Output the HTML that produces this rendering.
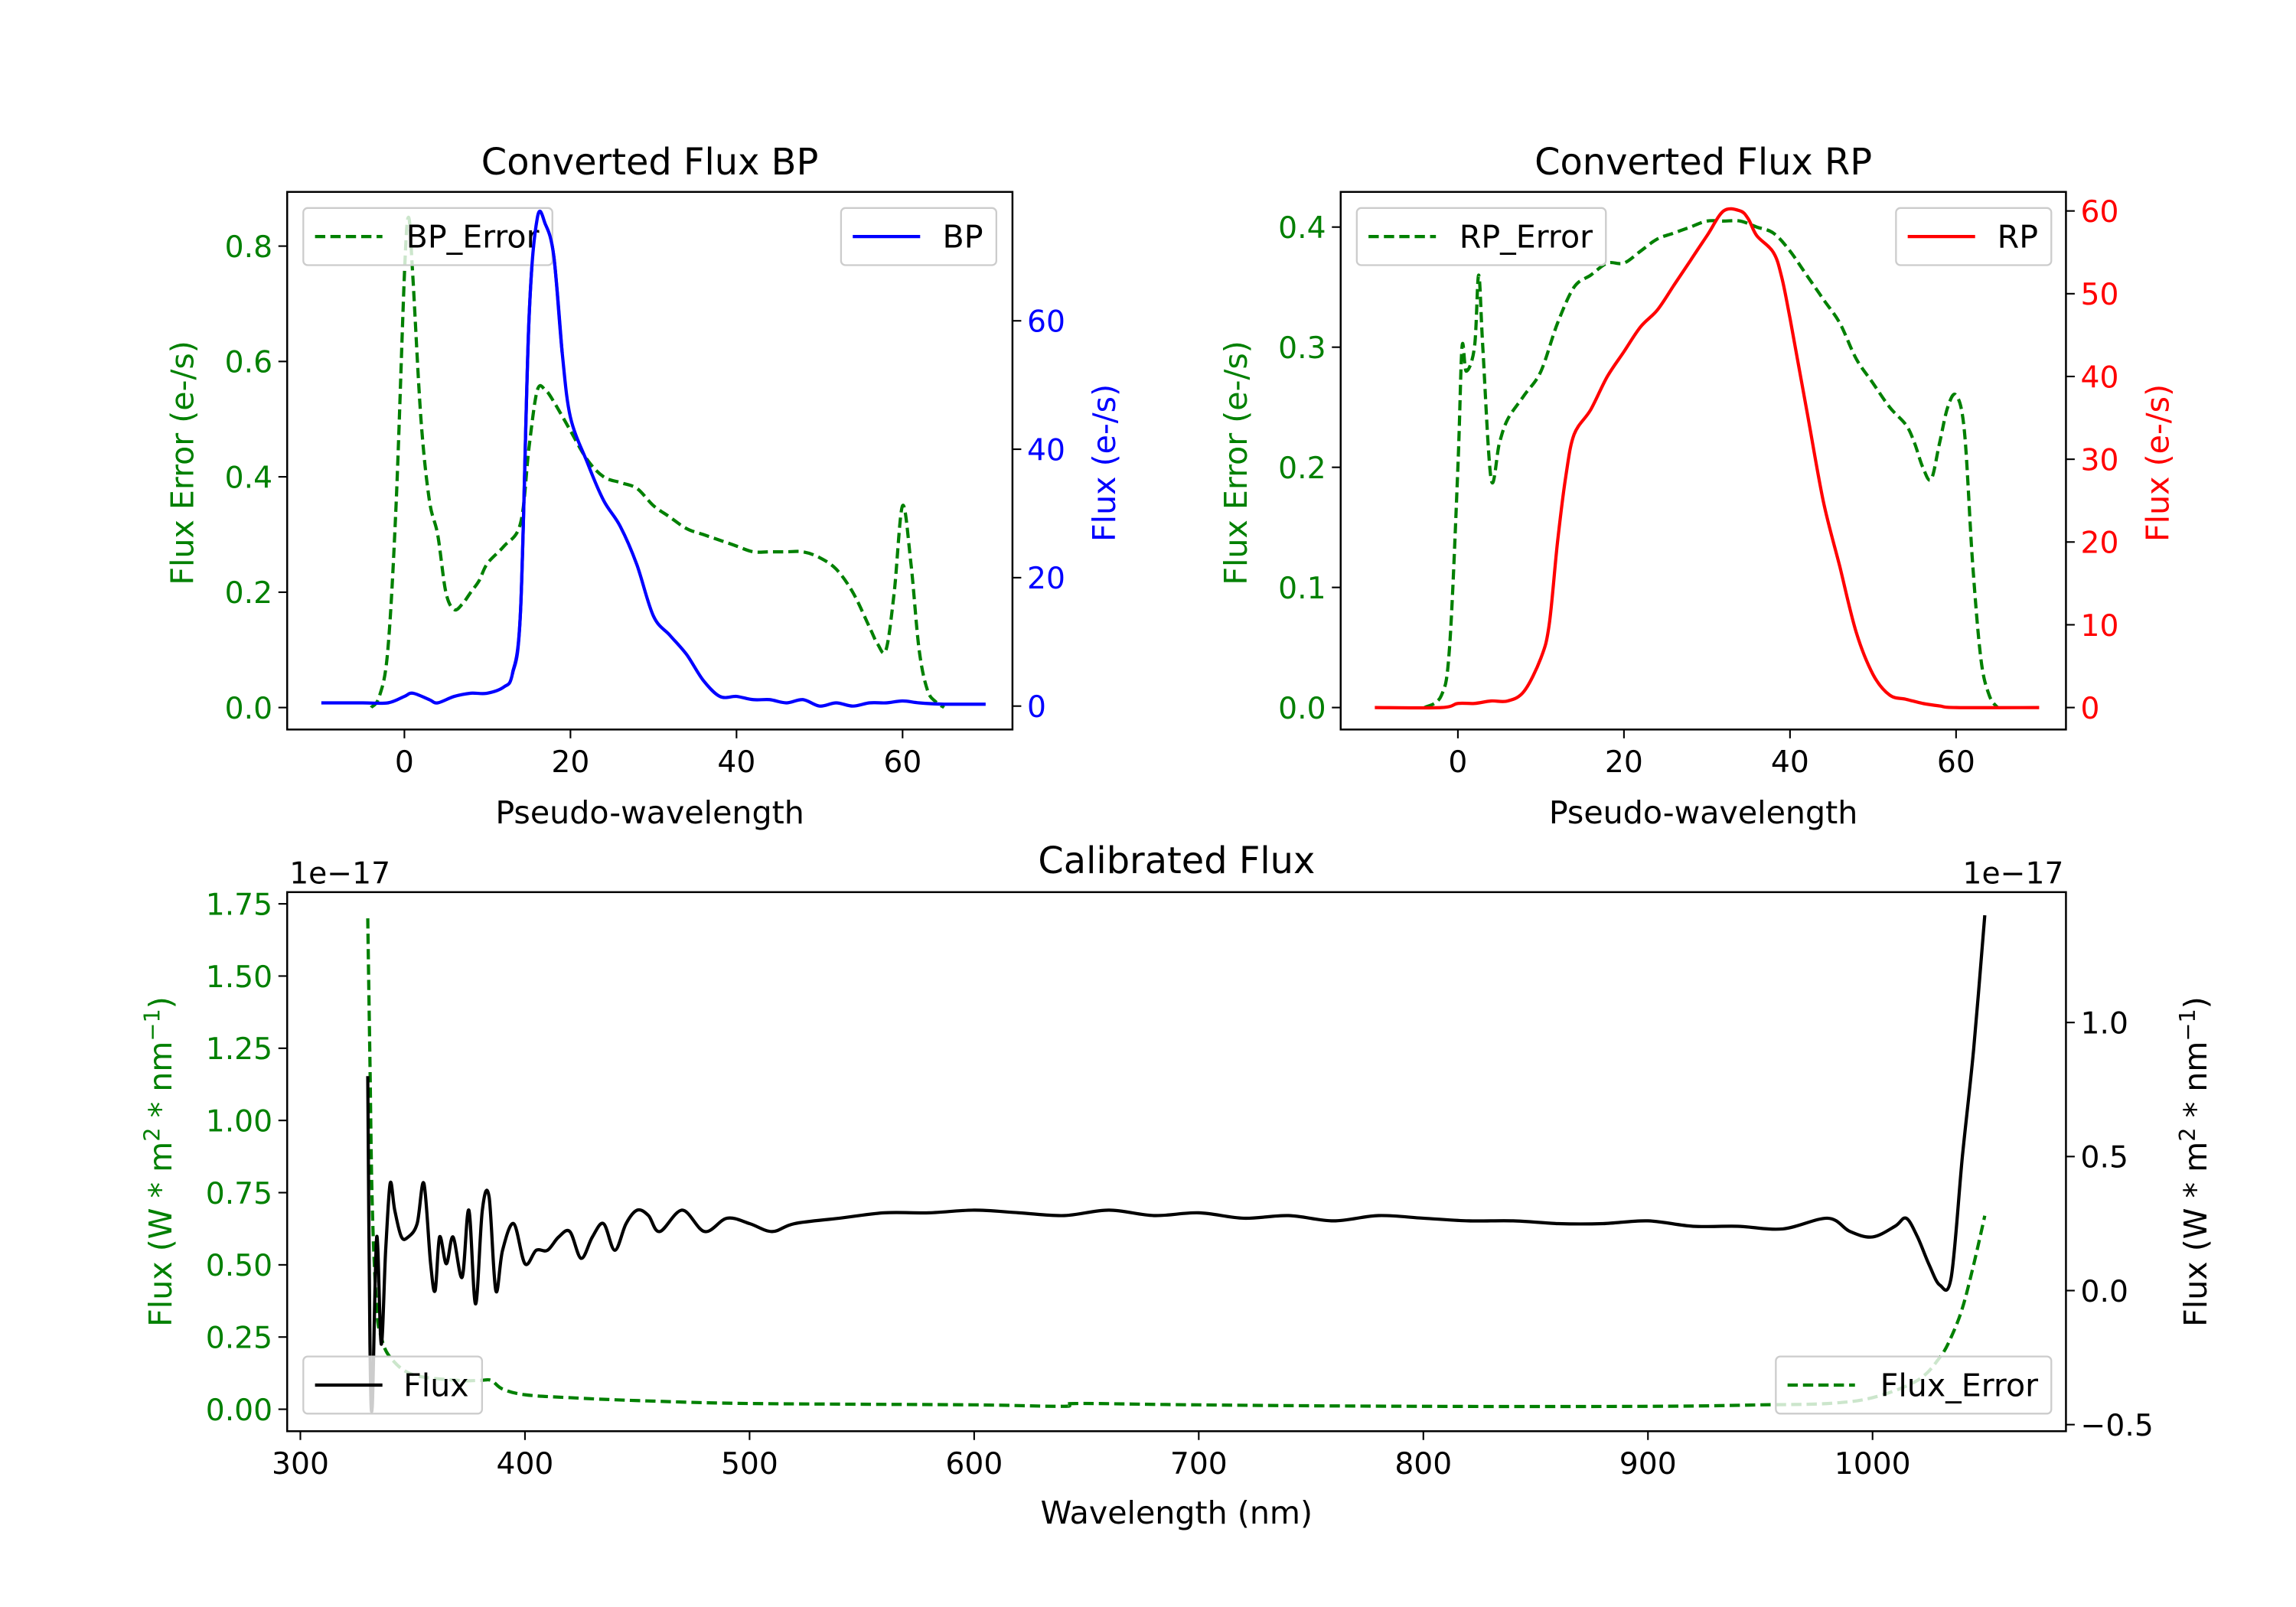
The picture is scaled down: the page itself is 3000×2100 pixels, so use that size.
<!DOCTYPE html>
<html><head><meta charset="utf-8"><style>
html,body{margin:0;padding:0;background:#fff}
svg{display:block}
text{font-family:"DejaVu Sans","Liberation Sans",sans-serif}
</style></head><body>
<svg id="fig" width="3000" height="2100" viewBox="0 0 1567 1097" preserveAspectRatio="none" xmlns="http://www.w3.org/2000/svg">
<rect width="1567" height="1097" fill="#fff"/>
<g id="layer"></g>
</svg>
<script>
// ---- data ----
const bpX = [-10,-5,-2,0,1,3,4,6,8,10,12,13,14,15,16,17,18,19,20,22,24,26,28,30,32,34,36,38,40,42,44,46,48,50,52,54,56,58,60,62,65,70];
const bpFlux = [0.5,0.5,0.5,1.5,2,1,0.5,1.5,2,2,3,5,15,60,76,75,70,55,45,38,32,28,22,14,11,8,4,1.5,1.5,1,1,0.5,1,0,0.5,0,0.5,0.5,0.8,0.5,0.3,0.3];
const bpErrX = [-4,-3,-2,-1,0,0.5,1,2,3,4,5,6,7,8,9,10,12,14,15,16,17,18,20,22,24,26,28,30,32,34,36,38,40,42,44,46,48,50,52,54,56,57,58,59,60,61,62,63,64,65];
const bpErr = [0,0.02,0.1,0.35,0.75,0.85,0.75,0.5,0.36,0.3,0.2,0.17,0.18,0.2,0.22,0.25,0.28,0.32,0.45,0.55,0.55,0.53,0.48,0.43,0.4,0.39,0.38,0.35,0.33,0.31,0.3,0.29,0.28,0.27,0.27,0.27,0.27,0.26,0.24,0.2,0.14,0.11,0.1,0.2,0.35,0.25,0.1,0.03,0.01,0];
const rpX = [-10,-2,0,2,4,6,8,10,11,12,13,14,16,18,20,22,24,26,28,30,32,34,35,36,38,39,40,42,44,46,48,50,52,54,56,58,60,70];
const rpFlux = [0,0,0.5,0.5,0.8,0.8,2,6,10,20,28,33,36,40,43,46,48,51,54,57,60,60,59,57,55,52,47,36,25,17,9,4,1.5,1,0.5,0.2,0,0];
const rpErrX = [-4,-2,-1,0,0.5,1,2,2.5,3,4,5,6,8,10,12,14,16,18,20,22,24,26,28,30,32,34,36,38,40,42,44,46,48,50,52,54,55,56,57,58,59,60,61,62,63,64,65];
const rpErr = [0,0.01,0.05,0.2,0.3,0.28,0.3,0.36,0.3,0.19,0.22,0.24,0.26,0.28,0.32,0.35,0.36,0.37,0.37,0.38,0.39,0.395,0.4,0.405,0.405,0.405,0.4,0.395,0.38,0.36,0.34,0.32,0.29,0.27,0.25,0.235,0.22,0.2,0.19,0.22,0.25,0.26,0.23,0.12,0.04,0.01,0];
const calX = [330,331,332,334,336,338,340,342,345,348,352,355,358,360,362,365,368,372,375,378,381,384,387,390,395,400,405,410,415,420,425,430,435,440,445,450,455,460,470,480,490,500,510,520,540,560,580,600,620,640,660,680,700,720,740,760,780,800,820,840,860,880,900,920,940,960,980,990,1000,1010,1015,1020,1025,1030,1035,1040,1045,1050];
const calFlux = [0.8,-0.2,-0.43,0.2,-0.2,0.15,0.4,0.3,0.2,0.2,0.25,0.4,0.1,0,0.2,0.1,0.2,0.05,0.3,-0.05,0.3,0.35,0,0.15,0.25,0.1,0.15,0.15,0.2,0.22,0.12,0.2,0.25,0.15,0.25,0.3,0.28,0.22,0.3,0.22,0.27,0.25,0.22,0.25,0.27,0.29,0.29,0.3,0.29,0.28,0.3,0.28,0.29,0.27,0.28,0.26,0.28,0.27,0.26,0.26,0.25,0.25,0.26,0.24,0.24,0.23,0.27,0.22,0.2,0.24,0.27,0.2,0.1,0.02,0.05,0.5,0.9,1.4];
const calErrX = [330,331,332,334,336,340,350,370,380,385,390,400,420,450,500,600,640,645,700,800,900,950,980,1000,1020,1030,1035,1040,1045,1050];
const calErr = [1.7,1.2,0.7,0.35,0.25,0.18,0.12,0.1,0.1,0.1,0.07,0.05,0.04,0.03,0.02,0.015,0.01,0.02,0.015,0.01,0.01,0.015,0.02,0.04,0.1,0.18,0.25,0.35,0.5,0.67];
const bpXTicks=[0,20,40,60], bpLTicks=[0,0.2,0.4,0.6,0.8], bpRTicks=[0,20,40,60];
const rpXTicks=[0,20,40,60], rpLTicks=[0,0.1,0.2,0.3,0.4], rpRTicks=[0,10,20,30,40,50,60];
const calXTicks=[300,400,500,600,700,800,900,1000], calLTicks=[0,0.25,0.5,0.75,1,1.25,1.5,1.75], calRTicks=[-0.5,0,0.5,1];

const NS="http://www.w3.org/2000/svg", L=document.getElementById('layer');
const TFS=20.5, LFS=21.5, HFS=25;
function el(tag,attrs,parent){const e=document.createElementNS(NS,tag);for(const k in attrs)e.setAttribute(k,attrs[k]);(parent||L).appendChild(e);return e;}
function lin(d0,d1,p0,p1){return v=>p0+(v-d0)*(p1-p0)/(d1-d0);}
function fmt(v,dec){return v<0?'\u2212'+Math.abs(v).toFixed(dec):v.toFixed(dec);}
function txt(s,x,y,o){const t=el('text',Object.assign({x:x,y:y,'font-size':o.fs||TFS,fill:o.fill||'#000','text-anchor':o.anchor||'middle'},o.extra||{}));t.textContent=s;return t;}

function line(xs,ys,fx,fy,color,dash,name){
  const P=xs.map((x,i)=>[fx(x),fy(ys[i])]);
  let d='M'+P[0][0].toFixed(1)+','+P[0][1].toFixed(1);
  for(let i=0;i<P.length-1;i++){
    const p0=P[Math.max(0,i-1)],p1=P[i],p2=P[i+1],p3=P[Math.min(P.length-1,i+2)];
    const c1=[p1[0]+(p2[0]-p0[0])/6,p1[1]+(p2[1]-p0[1])/6], c2=[p2[0]-(p3[0]-p1[0])/6,p2[1]-(p3[1]-p1[1])/6];
    d+=' C'+c1[0].toFixed(1)+','+c1[1].toFixed(1)+' '+c2[0].toFixed(1)+','+c2[1].toFixed(1)+' '+p2[0].toFixed(1)+','+p2[1].toFixed(1);
  }
  const p=el('path',{d:d,fill:'none',stroke:color,'stroke-width':2.2,'stroke-linejoin':'round'});
  if(dash)p.setAttribute('stroke-dasharray','7,3.5');
  
  
}
function frame(x0,y0,x1,y1,name){
  const r=el('rect',{x:x0,y:y0,width:x1-x0,height:y1-y0,fill:'none',stroke:'#000','stroke-width':1.3});
  
  
}
function xTicks(ticks,fx,y,dec){ticks.forEach(v=>{el('line',{x1:fx(v),x2:fx(v),y1:y,y2:y+6,stroke:'#000','stroke-width':1.1});const t=txt(fmt(v,dec),fx(v),y+29,{});});}
function yTicks(ticks,fy,x,side,dec,color){ticks.forEach(v=>{const d=side<0?-6:6;el('line',{x1:x,x2:x+d,y1:fy(v),y2:fy(v),stroke:'#000','stroke-width':1.1});const t=txt(fmt(v,dec),x+(side<0?-10:10),fy(v)+7.5,{fill:color,anchor:side<0?'end':'start'});});}
function legend(x,y,w,label,color,dash,name){
  const g=el('g',{});
  el('rect',{x:x,y:y,width:w,height:39,rx:3,fill:'#fff','fill-opacity':0.8,stroke:'#ccc','stroke-width':1.2},g);
  const l=el('line',{x1:x+8,x2:x+54,y1:y+19.5,y2:y+19.5,stroke:color,'stroke-width':2.2},g);
  if(dash)l.setAttribute('stroke-dasharray','7,3.5');
  const t=el('text',{x:x+w-9,y:y+27,'font-size':LFS,'text-anchor':'end',fill:'#000'},g);t.textContent=label;
}
function rotText(s,x,y,color,name){const t=txt(s,x,y,{fill:color,fs:LFS,extra:{transform:'rotate(-90 '+x+' '+y+')'}});return t;}

// ---- BP panel ----
{const fx=lin(0,60,276,616), fy=lin(0,0.8,483,168), fr=lin(0,60,482,219);
 line(bpErrX,bpErr,fx,fy,'green',true,'bp-error-line');
 line(bpX,bpFlux,fx,fr,'blue',false,'bp-flux-line');
 frame(196,131,691,498,'bp-axes');
 xTicks(bpXTicks,fx,498,0); yTicks(bpLTicks,fy,196,-1,1,'green'); yTicks(bpRTicks,fr,691,1,0,'blue');
 let t=txt('Converted Flux BP',443.5,119,{fs:HFS});
 t=txt('Pseudo-wavelength',443.5,562,{fs:LFS});
 rotText('Flux Error (e-/s)',132,316,'green','bp-left-y-title');
 rotText('Flux (e-/s)',761,316,'blue','bp-right-y-title');
 legend(207,142,170,'BP_Error','green',true,'bp-error-legend');
 legend(574,142,106,'BP','blue',false,'bp-legend');
 line(bpX.slice(11,18),bpFlux.slice(11,18),fx,fr,'blue',false,'bp-flux-peak');
}
// ---- RP panel ----
{const fx=lin(0,60,995,1335), fy=lin(0,0.4,483,155), fr=lin(0,60,483,144);
 line(rpErrX,rpErr,fx,fy,'green',true,'rp-error-line');
 line(rpX,rpFlux,fx,fr,'red',false,'rp-flux-line');
 frame(915,131,1410,498,'rp-axes');
 xTicks(rpXTicks,fx,498,0); yTicks(rpLTicks,fy,915,-1,1,'green'); yTicks(rpRTicks,fr,1410,1,0,'red');
 let t=txt('Converted Flux RP',1162.5,119,{fs:HFS});
 t=txt('Pseudo-wavelength',1162.5,562,{fs:LFS});
 rotText('Flux Error (e-/s)',851,316,'green','rp-left-y-title');
 rotText('Flux (e-/s)',1480,316,'red','rp-right-y-title');
 legend(926,142,170,'RP_Error','green',true,'rp-error-legend');
 legend(1294,142,106,'RP','red',false,'rp-legend');
}
// ---- Calibrated panel ----
{const fx=lin(300,1000,205,1278), fy=lin(0,1.75,962,617), fr=lin(0,1,881,698);
 line(calErrX,calErr,fx,fy,'green',true,'cal-error-line');
 line(calX,calFlux,fx,fr,'#000',false,'cal-flux-line');
 frame(196,609,1410,977,'cal-axes');
 xTicks(calXTicks,fx,977,0); yTicks(calLTicks,fy,196,-1,2,'green'); yTicks(calRTicks,fr,1410,1,1,'#000');
 let t=txt('Calibrated Flux',803,596,{fs:HFS});
 t=txt('Wavelength (nm)',803,1040,{fs:LFS});
 t=txt('1e\u221217',232,603,{fs:TFS});
 t=txt('1e\u221217',1374,603,{fs:TFS});
 const a=rotText('',117,793,'green','cal-left-y-title');a.innerHTML='Flux (W * m<tspan dy="-8" font-size="15">2</tspan><tspan dy="8"> * nm</tspan><tspan dy="-8" font-size="15">\u22121</tspan><tspan dy="8">)</tspan>';
 const b=rotText('',1506,793,'#000','cal-right-y-title');b.innerHTML='Flux (W * m<tspan dy="-8" font-size="15">2</tspan><tspan dy="8"> * nm</tspan><tspan dy="-8" font-size="15">\u22121</tspan><tspan dy="8">)</tspan>';
 legend(207,926,122,'Flux','#000',false,'cal-flux-legend');
 legend(1212,926,188,'Flux_Error','green',true,'cal-error-legend');
}
</script>
</body></html>
